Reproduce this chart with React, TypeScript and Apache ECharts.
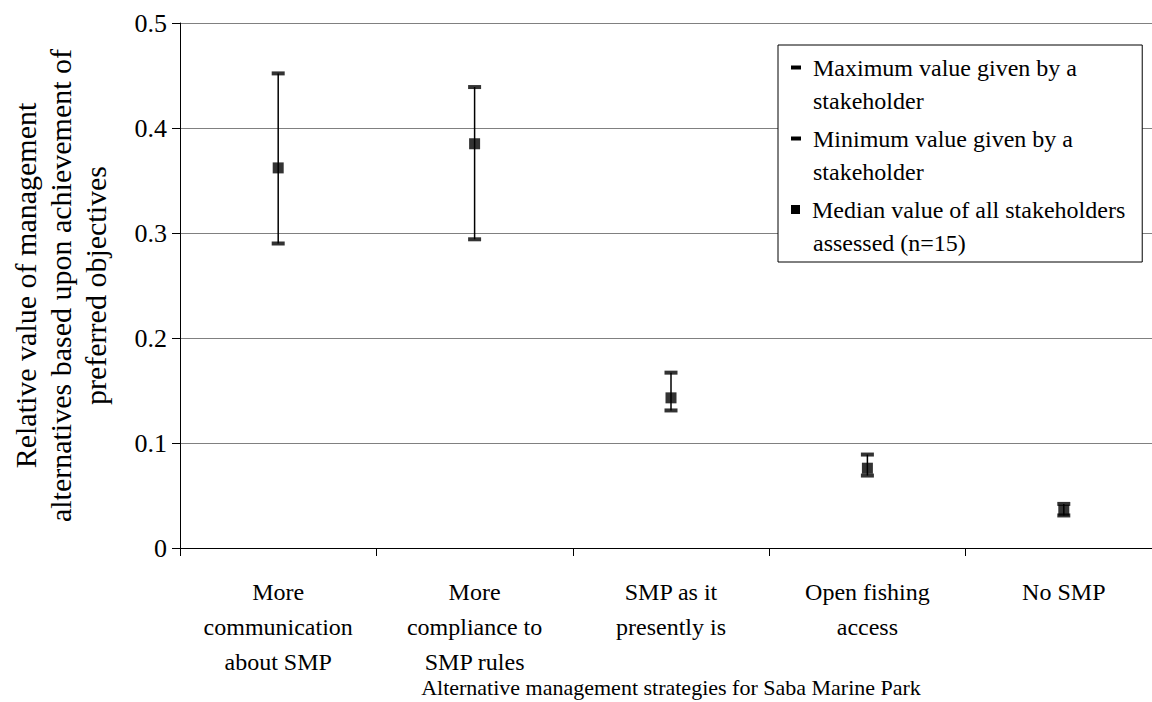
import React, { useEffect, useRef } from "react";
import * as echarts from "echarts";

const categories = [
  "More\ncommunication\nabout SMP",
  "More\ncompliance to\nSMP rules",
  "SMP as it\npresently is",
  "Open fishing\naccess",
  "No SMP",
];
const maxValues = [0.452, 0.439, 0.167, 0.089, 0.042];
const minValues = [0.29, 0.294, 0.131, 0.069, 0.031];
const medianValues = [0.362, 0.385, 0.143, 0.076, 0.036];

const yTicks = { min: 0, max: 0.5, interval: 0.1 };

const MAX_NAME = "Maximum value given by a stakeholder";
const MIN_NAME = "Minimum value given by a stakeholder";
const MED_NAME = "Median value of all stakeholders assessed (n=15)";

const FONT = "serif";

export default function App() {
  const ref = useRef<HTMLDivElement>(null);
  useEffect(() => {
    if (!ref.current) return;
    const chart = echarts.init(ref.current, undefined, { renderer: "svg" });
    const option: any = {
      animation: false,
      backgroundColor: "#ffffff",
      textStyle: { fontFamily: FONT, color: "#000" },
      grid: {
        left: 180,
        top: 23,
        right: -10,
        bottom: 154,
        containLabel: false,
        outerBoundsMode: "none",
      },
      legend: {
        show: true,
        orient: "vertical",
        left: 778,
        top: 45,
        icon: "none",
        itemWidth: 0,
        itemHeight: 14,
        itemGap: 5,
        selectedMode: false,
        backgroundColor: "#ffffff",
        borderColor: "#000000",
        borderWidth: 1,
        borderRadius: 0,
        padding: [6, 17, 3, 8],
        data: [MAX_NAME, MIN_NAME, MED_NAME],
        formatter: (name: string) => {
          if (name === MAX_NAME)
            return "{dash|}{g|}{t|Maximum value given by a}\n{ind|}{t|stakeholder}";
          if (name === MIN_NAME)
            return "{dash|}{g|}{t|Minimum value given by a}\n{ind|}{t|stakeholder}";
          return "{sq|}{g|}{t|Median value of all stakeholders}\n{ind|}{t|assessed (n=15)}";
        },
        textStyle: {
          fontFamily: FONT,
          fontSize: 24,
          lineHeight: 33,
          color: "#000",
          rich: {
            dash: { width: 10, height: 4, backgroundColor: "#000", lineHeight: 33 },
            sq: { width: 9, height: 9, backgroundColor: "#000", lineHeight: 33 },
            g: { width: 12, lineHeight: 33 },
            ind: { width: 22, lineHeight: 33 },
            t: { fontFamily: FONT, fontSize: 24, lineHeight: 33, color: "#000" },
          },
        },
      },
      xAxis: {
        type: "category",
        data: categories,
        boundaryGap: true,
        name: "Alternative management strategies for Saba Marine Park",
        nameLocation: "middle",
        nameGap: 128,
        nameMoveOverlap: false,
        nameTextStyle: { fontFamily: FONT, fontSize: 22, color: "#000" },
        axisLine: { lineStyle: { color: "#000", width: 1 } },
        axisTick: { show: true, length: 8, lineStyle: { color: "#000" } },
        axisLabel: {
          interval: 0,
          margin: 26,
          fontFamily: FONT,
          fontSize: 24,
          lineHeight: 35,
          color: "#000",
          align: "center",
        },
        splitLine: { show: false },
      },
      yAxis: {
        type: "value",
        min: yTicks.min,
        max: yTicks.max,
        interval: yTicks.interval,
        name:
          "Relative value of management\nalternatives based upon achievement of\npreferred objectives",
        nameLocation: "middle",
        nameRotate: 90,
        nameGap: 67,
        nameMoveOverlap: false,
        nameTextStyle: {
          fontFamily: FONT,
          fontSize: 30,
          lineHeight: 35,
          color: "#000",
          align: "center",
        },
        axisLine: { show: true, lineStyle: { color: "#000", width: 1 } },
        axisTick: { show: true, length: 8, lineStyle: { color: "#000" } },
        axisLabel: {
          margin: 13,
          fontFamily: FONT,
          fontSize: 26,
          color: "#000",
        },
        splitLine: { show: true, lineStyle: { color: "#808080", width: 1 } },
      },
      series: [
        {
          type: "custom",
          name: "range",
          silent: true,
          z: 1,
          data: categories.map((_, i) => [i, minValues[i], maxValues[i]]),
          encode: { x: 0, y: [1, 2] },
          renderItem: (_params: any, api: any) => {
            const p1 = api.coord([api.value(0), api.value(1)]);
            const p2 = api.coord([api.value(0), api.value(2)]);
            return {
              type: "line",
              shape: { x1: p1[0], y1: p1[1], x2: p2[0], y2: p2[1] },
              style: { stroke: "#000", lineWidth: 1.5 },
            };
          },
        },
        {
          type: "scatter",
          name: MAX_NAME,
          z: 3,
          symbol: "rect",
          symbolSize: [13, 4],
          itemStyle: { color: "#000" },
          data: maxValues,
        },
        {
          type: "scatter",
          name: MIN_NAME,
          z: 3,
          symbol: "rect",
          symbolSize: [13, 4],
          itemStyle: { color: "#000" },
          data: minValues,
        },
        {
          type: "scatter",
          name: MED_NAME,
          z: 4,
          symbol: "rect",
          symbolSize: [11, 11],
          itemStyle: { color: "#000" },
          data: medianValues,
        },
      ],
    };
    chart.setOption(option);
    return () => chart.dispose();
  }, []);
  return (
    <div
      ref={ref}
      style={{ position: "absolute", left: 0, top: 0, width: 1152, height: 702 }}
    />
  );
}
